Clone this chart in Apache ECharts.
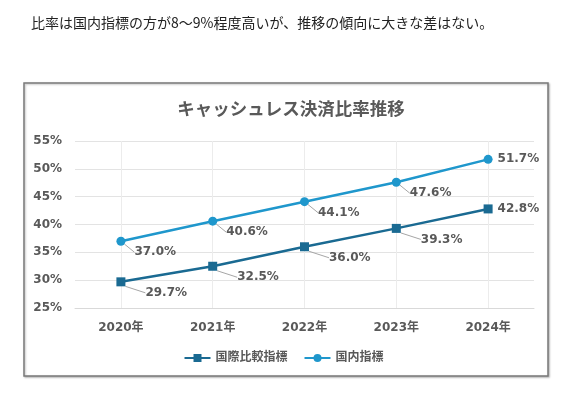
<!DOCTYPE html>
<html>
<head>
<meta charset="utf-8">
<script src="https://cdn.jsdelivr.net/npm/echarts@6/dist/echarts.min.js"></script>
<style>
  html, body { margin: 0; padding: 0; background: #fff; }
  #chart { width: 567px; height: 398px; }
</style>
</head>
<body>
<div id="chart"></div>
<script>
// データ
var years = ["2020年", "2021年", "2022年", "2023年", "2024年"];
var intlRatio = [29.7, 32.5, 36.0, 39.3, 42.8];     // 国際比較指標
var domesticRatio = [37.0, 40.6, 44.1, 47.6, 51.7]; // 国内指標
var yTicks = [25, 30, 35, 40, 45, 50, 55];

var FONT = "'DejaVu Sans', 'Noto Sans CJK JP', sans-serif";
var GRAY = "#595959";

var chart = echarts.init(document.getElementById("chart"));

// ラベルをずらして引き出し線を出す（最後の点はそのまま）
function shift(dx, dy) {
  return function (p) {
    if (p.dataIndex === years.length - 1) return {};
    return { dx: dx, dy: dy };
  };
}

// 最後の点は引き出し線なし
function toItems(arr) {
  return arr.map(function (v, i) {
    if (i === arr.length - 1) return { value: v, labelLine: { show: false } };
    return v;
  });
}

var labelStyle = {
  show: true,
  position: "right",
  distance: 5,
  color: GRAY,
  fontFamily: FONT,
  fontWeight: "bold",
  fontSize: 12,
  formatter: function (p) { return p.value.toFixed(1) + "%"; }
};

var option = {
  backgroundColor: "#fff",
  animation: false,
  title: [
    {
      text: "比率は国内指標の方が8～9%程度高いが、推移の傾向に大きな差はない。",
      left: 26,
      top: 11,
      textStyle: { color: "#222", fontSize: 14, fontWeight: "normal", fontFamily: "'Noto Sans CJK JP', sans-serif" }
    },
    {
      text: "キャッシュレス決済比率推移",
      left: 286,
      textAlign: "center",
      top: 95,
      textStyle: { color: GRAY, fontSize: 17.5, fontWeight: "bold", fontFamily: "'Noto Sans CJK JP', sans-serif" }
    }
  ],
  graphic: [
    {
      type: "rect",
      shape: { x: 24, y: 83, width: 524, height: 293 },
      style: { fill: "#fff", stroke: "#7a7a7a", lineWidth: 1.5, shadowColor: "rgba(0,0,0,0.25)", shadowOffsetX: 1, shadowOffsetY: 1, shadowBlur: 2 },
      z: -10
    }
  ],
  legend: {
    bottom: 29,
    left: "center",
    itemWidth: 26,
    itemHeight: 10,
    itemGap: 16,
    textStyle: { color: GRAY, fontFamily: FONT, fontWeight: "bold", fontSize: 12 },
    data: ["国際比較指標", "国内指標"]
  },
  grid: { left: 75, right: 33, top: 141, bottom: 90 },
  xAxis: {
    type: "category",
    data: years,
    boundaryGap: true,
    axisLine: { lineStyle: { color: "#d9d9d9" } },
    axisTick: { show: false },
    axisLabel: { color: GRAY, fontFamily: FONT, fontWeight: "bold", fontSize: 12, margin: 14 },
    splitLine: { show: false }
  },
  yAxis: {
    type: "value",
    min: yTicks[0],
    max: yTicks[yTicks.length - 1],
    interval: 5,
    axisLine: { show: false },
    axisTick: { show: false },
    axisLabel: { color: GRAY, fontFamily: FONT, fontWeight: "bold", fontSize: 12, margin: 13, formatter: "{value}%" },
    splitLine: { lineStyle: { color: "#e3e3e3" } }
  },
  series: [
    {
      // 縦の補助線だけ（データなし）
      name: "grid-v",
      type: "line",
      data: [],
      silent: true,
      z: 1,
      markLine: {
        silent: true,
        z: 1,
        symbol: "none",
        label: { show: false },
        lineStyle: { color: "#ececec", type: "solid", width: 1 },
        data: years.map(function (y) { return { xAxis: y }; })
      }
    },
    {
      name: "国際比較指標",
      type: "line",
      data: toItems(intlRatio),
      symbol: "rect",
      symbolSize: 9,
      color: "#1a6a92",
      lineStyle: { width: 2.5 },
      label: labelStyle,
      labelLayout: shift(15, 11),
      labelLine: { show: true, lineStyle: { color: "#a6a6a6", width: 1 } },
      z: 3
    },
    {
      name: "国内指標",
      type: "line",
      data: toItems(domesticRatio),
      symbol: "circle",
      symbolSize: 9,
      color: "#1f97cc",
      lineStyle: { width: 2.5 },
      label: labelStyle,
      labelLayout: shift(4, 11),
      labelLine: { show: true, lineStyle: { color: "#a6a6a6", width: 1 } },
      z: 3
    }
  ]
};

chart.setOption(option);
</script>
</body>
</html>
